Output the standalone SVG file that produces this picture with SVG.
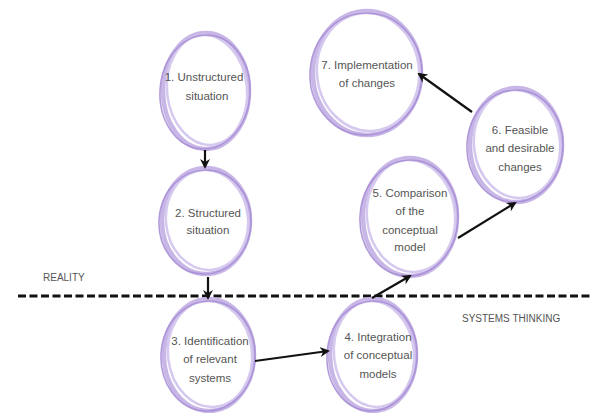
<svg xmlns="http://www.w3.org/2000/svg" width="596" height="413" viewBox="0 0 596 413">
<defs>
<style>
.t{font-family:"Liberation Sans",Arial,sans-serif;font-size:11.5px;fill:#555;text-anchor:middle}
.lbl{font-family:"Liberation Sans",Arial,sans-serif;font-size:10px;fill:#555}
.o1{fill:#fff;stroke:#c3b0e4;stroke-width:4.5;opacity:0.9}
.o2{fill:none;stroke:#a98fd6;stroke-width:1.6;opacity:0.9}
.o3{fill:none;stroke:#d6c9ef;stroke-width:2.5}
.c{stroke:#111;stroke-width:2.2;fill:none;marker-end:url(#ah)}
</style>
<marker id="ah" viewBox="0 0 10 10" refX="8" refY="5" markerWidth="4.5" markerHeight="4.5" orient="auto" markerUnits="strokeWidth">
<path d="M0,0 L10,5 L0,10 L3,5 z" fill="#111"/>
</marker>
</defs>
<rect width="596" height="413" fill="#fff"/>
<line x1="18" y1="296" x2="590" y2="296" stroke="#111" stroke-width="3" stroke-dasharray="8,3.5"/>
<text class="lbl" x="43" y="281">REALITY</text>
<text class="lbl" x="462" y="322">SYSTEMS  THINKING</text>
<g id="node1">
<ellipse class="o1" cx="206" cy="91" rx="43" ry="58"/>
<ellipse class="o3" cx="207" cy="90" rx="40" ry="55" transform="rotate(-6 207 90)"/>
<ellipse class="o2" cx="205" cy="92" rx="45" ry="57" transform="rotate(4 205 92)"/>
<text class="t" x="204" y="81">1.  Unstructured</text>
<text class="t" x="207" y="100">situation</text>
</g>
<g id="node2">
<ellipse class="o1" cx="206" cy="221" rx="44" ry="53"/>
<ellipse class="o3" cx="207" cy="220" rx="41" ry="50" transform="rotate(-6 207 220)"/>
<ellipse class="o2" cx="205" cy="222" rx="46" ry="52" transform="rotate(4 205 222)"/>
<text class="t" x="208" y="217">2. Structured</text>
<text class="t" x="208" y="234">situation</text>
</g>
<g id="node3">
<ellipse class="o1" cx="209" cy="355" rx="45" ry="56"/>
<ellipse class="o3" cx="210" cy="354" rx="42" ry="53" transform="rotate(-6 210 354)"/>
<ellipse class="o2" cx="208" cy="356" rx="47" ry="55" transform="rotate(4 208 356)"/>
<text class="t" x="210" y="345">3. Identification</text>
<text class="t" x="210" y="363">of relevant</text>
<text class="t" x="210" y="382">systems</text>
</g>
<g id="node4">
<ellipse class="o1" cx="373" cy="355" rx="43" ry="56"/>
<ellipse class="o3" cx="374" cy="354" rx="40" ry="53" transform="rotate(-6 374 354)"/>
<ellipse class="o2" cx="372" cy="356" rx="45" ry="55" transform="rotate(4 372 356)"/>
<text class="t" x="378" y="341">4.  Integration</text>
<text class="t" x="378" y="359">of conceptual</text>
<text class="t" x="378" y="378">models</text>
</g>
<g id="node5">
<ellipse class="o1" cx="410" cy="217" rx="47" ry="59"/>
<ellipse class="o3" cx="411" cy="216" rx="44" ry="56" transform="rotate(-6 411 216)"/>
<ellipse class="o2" cx="409" cy="218" rx="49" ry="58" transform="rotate(4 409 218)"/>
<text class="t" x="410" y="197">5. Comparison</text>
<text class="t" x="410" y="215">of the</text>
<text class="t" x="410" y="234">conceptual</text>
<text class="t" x="410" y="251">model</text>
</g>
<g id="node6">
<ellipse class="o1" cx="516" cy="145" rx="46" ry="57"/>
<ellipse class="o3" cx="517" cy="144" rx="43" ry="54" transform="rotate(-6 517 144)"/>
<ellipse class="o2" cx="515" cy="146" rx="48" ry="56" transform="rotate(4 515 146)"/>
<text class="t" x="520" y="134">6.  Feasible</text>
<text class="t" x="520" y="152">and desirable</text>
<text class="t" x="520" y="171">changes</text>
</g>
<g id="node7">
<ellipse class="o1" cx="367" cy="73" rx="54" ry="62"/>
<ellipse class="o3" cx="368" cy="72" rx="51" ry="59" transform="rotate(-6 368 72)"/>
<ellipse class="o2" cx="366" cy="74" rx="56" ry="61" transform="rotate(4 366 74)"/>
<text class="t" x="367" y="69">7.  Implementation</text>
<text class="t" x="367" y="87">of changes</text>
</g>
<g id="connectors">
<line class="c" x1="205" y1="150" x2="205" y2="167"/>
<line class="c" x1="208" y1="277" x2="208" y2="298"/>
<line class="c" x1="255" y1="361" x2="328" y2="351"/>
<line class="c" x1="372" y1="298" x2="410" y2="276"/>
<line class="c" x1="458" y1="238" x2="515" y2="203"/>
<line class="c" x1="472" y1="112" x2="419" y2="74"/>
</g>
</svg>
